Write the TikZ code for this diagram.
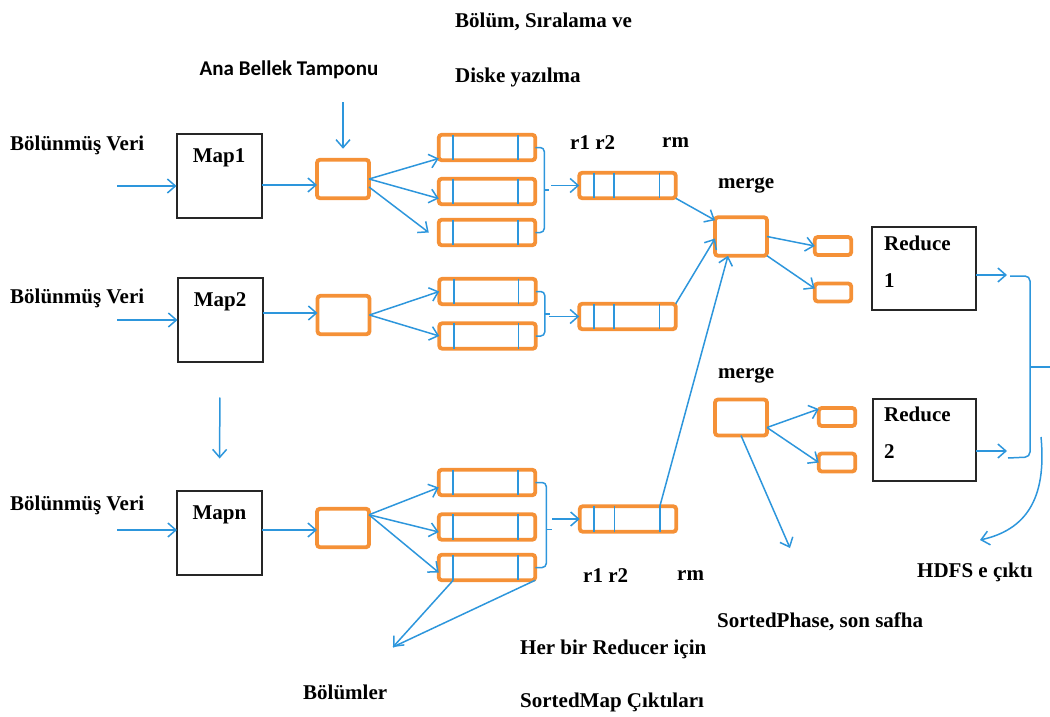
\documentclass[tikz,border=0pt]{standalone}
\usepackage{fontspec}
\setmainfont{Liberation Serif}
\newfontfamily\calfont{Carlito}
\usetikzlibrary{arrows.meta,calc}
\definecolor{lblue}{RGB}{45,150,220}
\definecolor{lorange}{RGB}{245,145,55}
\begin{document}
\begin{tikzpicture}[x=1pt,y=-1pt,
 lbl/.style={font=\fontsize{21}{24}\selectfont\bfseries, inner sep=0pt, anchor=west},
 mapbox/.style={draw=black!85, line width=2pt, minimum width=85pt, minimum height=84pt, inner sep=0pt, outer sep=0pt},
 obox/.style={draw=lorange, line width=3.8pt, rounded corners=3pt, inner sep=0pt, outer sep=0pt, fill=white},
 part/.style={obox, minimum width=96.5pt, minimum height=25.5pt},
 buf/.style={obox, minimum width=52pt, minimum height=38.5pt},
 small/.style={obox, minimum width=36.5pt, minimum height=18pt},
 arr/.style={draw=lblue, line width=1.5pt, -{Straight Barb[length=8pt,width=14pt,line width=1.5pt]}},
 bline/.style={draw=lblue, line width=1.5pt},
 divl/.style={draw=lblue, line width=1.6pt},
]
\useasboundingbox (0,0) rectangle (1050,717);

% ---------- Map boxes ----------
\node[mapbox] (map1) at (219,176) {};
\node[mapbox] (map2) at (220,319.5) {};
\node[mapbox] (mapn) at (219.5,532.5) {};
\node[lbl, anchor=center] (map1t) at (219,158) {Map1};
\node[lbl, anchor=center] (map2t) at (220,302) {Map2};
\node[lbl, anchor=center] (mapnt) at (219.5,515) {Mapn};

% ---------- Buffers ----------
\node[buf] (buf1) at (343,179) {};
\node[buf] (buf2) at (343.5,315) {};
\node[buf] (buf3) at (343,528) {};

% ---------- Partitions ----------
\node[part] (p11) at (487,147.5) {};
\node[part] (p12) at (487,191.5) {};
\node[part] (p13) at (487,232.5) {};
\node[part] (p21) at (487.5,291.5) {};
\node[part] (p22) at (487.5,336) {};
\node[part] (p31) at (487,482.5) {};
\node[part] (p32) at (487,527) {};
\node[part] (p33) at (487,567.5) {};
\foreach \p in {p11,p12,p13,p21,p22,p31,p32,p33}{
  \foreach \f in {0.15,0.82}{
    \draw[divl] ($(\p.north west)!\f!(\p.north east)$) -- ($(\p.south west)!\f!(\p.south east)$);
  }
}

% ---------- Merged outputs ----------
\node[part] (m1) at (627.5,185.5) {};
\node[part] (m2) at (627.5,316.5) {};
\node[part] (m3) at (628,519) {};
\foreach \p in {m1,m2,m3}{
  \foreach \f in {0.15,0.36,0.83}{
    \draw[divl] ($(\p.north west)!\f!(\p.north east)$) -- ($(\p.south west)!\f!(\p.south east)$);
  }
}

% ---------- Merge boxes ----------
\node[buf] (mg1) at (741,236.5) {};
\node[obox, minimum width=52pt, minimum height=36pt] (mg2) at (741,417.5) {};
\node[small] (sa) at (833,246) {};
\node[small] (sb) at (833,292.5) {};
\node[small] (sc) at (837,417) {};
\node[small] (sd) at (837,462.5) {};

% ---------- Reduce boxes ----------
\node[mapbox, minimum width=104pt, minimum height=83pt] (r1) at (924,268.5) {};
\node[mapbox, minimum width=103pt, minimum height=82pt] (r2) at (924.5,440) {};
\node[lbl, anchor=north west, align=left, font=\fontsize{21}{37}\selectfont\bfseries] (r1t) at (884,236) {Reduce\\1};
\node[lbl, anchor=north west, align=left, font=\fontsize{21}{37}\selectfont\bfseries] (r2t) at (884,407) {Reduce\\2};

% ---------- Labels ----------
\node[lbl] (bv1) at (10,145) {Bölünmüş Veri};
\node[lbl] (bv2) at (10,298) {Bölünmüş Veri};
\node[lbl] (bv3) at (10,505) {Bölünmüş Veri};
\node[lbl, font=\calfont\fontsize{21}{24}\selectfont\bfseries, anchor=center] (abt) at (289,70) {Ana Bellek Tamponu};
\node[lbl] (bsv) at (455,22) {Bölüm, Sıralama ve};
\node[lbl] (dy) at (455,77) {Diske yazılma};
\node[lbl] (r12a) at (570,143) {r1 r2};
\node[lbl] (rma) at (662,143) {rm};
\node[lbl] (mgt1) at (718,185) {merge};
\node[lbl] (mgt2) at (718,375) {merge};
\node[lbl] (r12b) at (583,576) {r1 r2};
\node[lbl] (rmb) at (677,576) {rm};
\node[lbl] (hbr) at (520,649) {Her bir Reducer için};
\node[lbl] (smc) at (520,702) {SortedMap Çıktıları};
\node[lbl] (bol) at (303,692) {Bölümler};
\node[lbl] (sph) at (717,622) {SortedPhase, son safha};
\node[lbl] (hdfs) at (917,572) {HDFS e çıktı};

% ---------- Input arrows ----------
\coordinate (in1) at (117,186);
\coordinate (in2) at (117,320);
\coordinate (in3) at (117,530);
\draw[arr] (in1) -- (in1 -| map1.west);
\draw[arr] (in2) -- (in2 -| map2.west);
\draw[arr] (in3) -- (in3 -| mapn.west);
\draw[arr] (map1.east |- 0,185) -- (buf1.west |- 0,185);
\draw[arr] (map2.east |- 0,313) -- (buf2.west |- 0,313);
\draw[arr] (mapn.east |- 0,530) -- (buf3.west |- 0,530);
\draw[arr, shorten <=36pt, shorten >=32pt] (map2.south) -- (mapn.north);
\coordinate (abs) at (343,102);
\draw[arr, shorten >=11pt] (abs) -- (buf1.north);

% ---------- Buffer to partitions ----------
\draw[arr] (buf1.east) -- ($(p11.west)+(0,11)$);
\draw[arr] (buf1.east) -- ($(p12.west)+(0,7)$);
\draw[arr] ($(buf1.east)+(0,8)$) -- ($(p13.west)+(-10,0)$);
\draw[arr] (buf2.east) -- (p21.west);
\draw[arr] (buf2.east) -- (p22.west);
\draw[arr] ($(buf3.north east)+(0,6)$) -- ($(p31.west)+(0,5)$);
\draw[arr] ($(buf3.north east)+(0,6)$) -- ($(p32.west)+(0,5)$);
\draw[arr] ($(buf3.north east)+(0,6)$) -- ($(p33.west)+(0,5)$);

% ---------- Braces ----------
\draw[bline, rounded corners=4pt] (p11.east) -| ($(p13.east)+(9,0)$) -- (p13.east);
\draw[bline] ($($(p11.east)!0.5!(p13.east)$)+(9,0)$) -- ++(5,0);
\coordinate (t1) at (551,185.5);
\draw[arr] (t1) -- (m1.west);

\draw[bline, rounded corners=4pt] (p21.east) -| ($(p22.east)+(9,0)$) -- (p22.east);
\draw[bline] ($($(p21.east)!0.5!(p22.east)$)+(9,0)$) -- ++(5,0);
\coordinate (t2) at (549,316.5);
\draw[arr] (t2) -- (m2.west);

\draw[bline, rounded corners=4pt] (p31.east) -| ($(p33.east)+(11,0)$) -- (p33.east);
\draw[bline] ($($(p31.east)!0.55!(p33.east)$)+(11,0)$) -- ++(6,0);
\coordinate (t3) at (552,519);
\draw[arr] (t3) -- (m3.west);

% ---------- Partitions label arrows ----------
\coordinate (bolt) at (393,647);
\draw[arr] ($(p33.south west)!0.15!(p33.south east)$) -- (bolt);
\draw[bline] (p33.south east) -- (bolt);

% ---------- To merge ----------
\draw[arr] (m1.south east) -- ($(mg1.north west)+(0,3)$);
\draw[arr] (m2.north east) -- ($(mg1.west)+(0,2)$);
\draw[arr] ($(m3.north west)!0.83!(m3.north east)$) -- ($(mg1.south west)!0.25!(mg1.south east)$);

\draw[arr] (mg1.east) -- (sa.west);
\draw[arr] (mg1.south east) -- ($(sb.west)+(0,-4)$);
\draw[arr] ($(mg2.east)+(0,10)$) -- ($(sc.west)+(0,-8)$);
\draw[arr] ($(mg2.east)+(0,10)$) -- (sd.west);
\coordinate (spt) at (790,548);
\draw[arr] (mg2.south) -- (spt);

% ---------- Reduce outputs ----------
\coordinate (o1) at (1007,275);
\coordinate (o2) at (1007,451);
\draw[arr] (r1.east |- o1) -- (o1);
\draw[arr] (r2.east |- o2) -- (o2);
\coordinate (bt) at (1010,276);
\coordinate (bb) at (1008,458);
\draw[bline, rounded corners=5pt] (bt) -| (1030,457) -- (bb);
\draw[bline] (1030,367) -- (1050,367);
\coordinate (hs) at (1041,437);
\coordinate (ht) at (980,540);
\draw[arr] (hs) .. controls (1047,500) and (1025,530) .. (ht);
\end{tikzpicture}
\end{document}
